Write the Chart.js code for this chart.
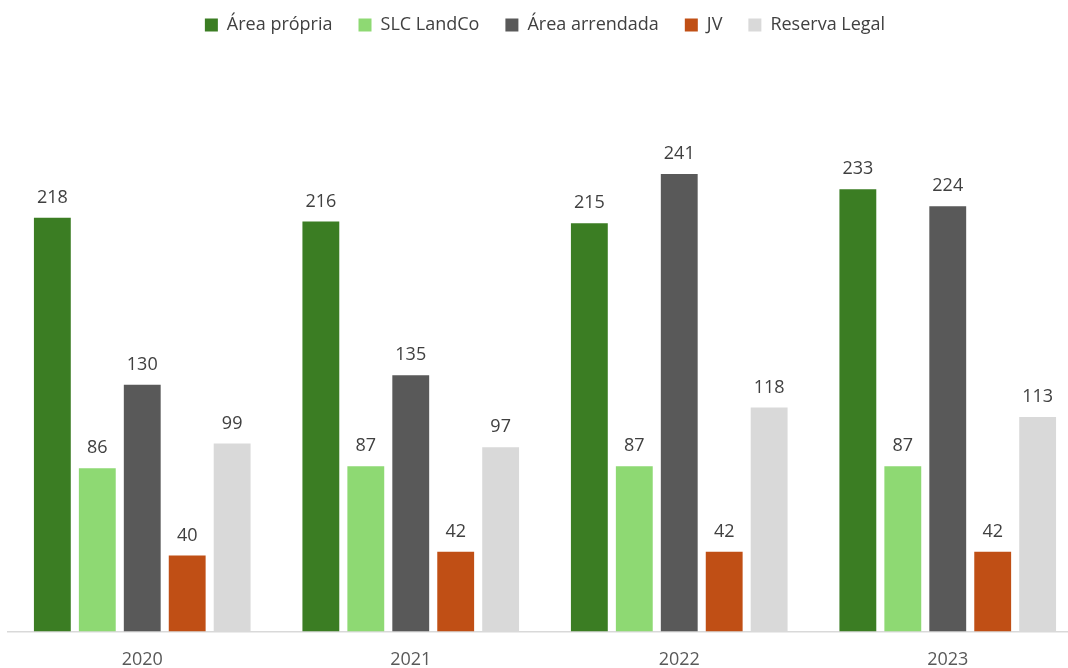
<!DOCTYPE html>
<html>
<head>
<meta charset="utf-8">
<script src="https://cdn.jsdelivr.net/npm/chart.js@4/dist/chart.umd.min.js"></script>
<style>
    html, body { margin: 0; padding: 0; background: #fff; overflow: hidden; }
    #wrap { width: 1090px; height: 689px; position: relative; }
</style>
</head>
<body>
<div id="wrap"><canvas id="areaChart"></canvas></div>
<script>
// área por ano (mil ha)
const anos = ['2020', '2021', '2022', '2023'];
const areaPropria = [218, 216, 215, 233];
const slcLandco = [86, 87, 87, 87];
const areaArrendada = [130, 135, 241, 224];
const jv = [40, 42, 42, 42];
const reservaLegal = [99, 97, 118, 113];

const series = [
    { label: 'Área própria', data: areaPropria, color: '#3b7d23' },
    { label: 'SLC LandCo', data: slcLandco, color: '#8ed973' },
    { label: 'Área arrendada', data: areaArrendada, color: '#595959' },
    { label: 'JV', data: jv, color: '#c04f15' },
    { label: 'Reserva Legal', data: reservaLegal, color: '#d9d9d9' }
];

const fonte = '"Open Sans", "Noto Sans", sans-serif';

// rótulos de valor acima de cada barra
const valueLabels = {
    id: 'valueLabels',
    afterDatasetsDraw(chart) {
        const ctx = chart.ctx;
        ctx.save();
        ctx.font = '18px ' + fonte;
        ctx.fillStyle = '#404040';
        ctx.textAlign = 'center';
        ctx.textBaseline = 'middle';
        chart.data.datasets.forEach((ds, i) => {
            chart.getDatasetMeta(i).data.forEach((bar, j) => {
                ctx.fillText(String(ds.data[j]), bar.x, bar.y - 20);
            });
        });
        ctx.restore();
    }
};

// espaço extra abaixo da legenda
const legendGap = {
    id: 'legendGap',
    beforeInit(chart) {
        const fit = chart.legend.fit;
        chart.legend.fit = function () {
            fit.bind(chart.legend)();
            this.height += 18;
        };
    }
};

const ctx = document.getElementById('areaChart').getContext('2d');
new Chart(ctx, {
    type: 'bar',
    data: {
        labels: anos,
        datasets: series.map(s => ({
            label: s.label,
            data: s.data,
            backgroundColor: s.color,
            borderWidth: 0,
            categoryPercentage: 0.837,
            barPercentage: 0.82
        }))
    },
    options: {
        responsive: true,
        maintainAspectRatio: false,
        animation: false,
        layout: { padding: { left: 8, right: 8, top: -10, bottom: 0 } },
        scales: {
            x: {
                grid: { display: false, drawTicks: false },
                border: { display: true, color: '#d9d9d9', width: 1.5 },
                ticks: { color: '#595959', font: { size: 18, family: fonte }, padding: 18 }
            },
            y: {
                display: false,
                min: 0,
                max: 300
            }
        },
        plugins: {
            legend: {
                position: 'top',
                labels: {
                    boxWidth: 13,
                    boxHeight: 13,
                    padding: 26,
                    color: '#404040',
                    font: { size: 18, family: fonte }
                }
            },
            tooltip: { enabled: false }
        }
    },
    plugins: [valueLabels, legendGap]
});
</script>
</body>
</html>
